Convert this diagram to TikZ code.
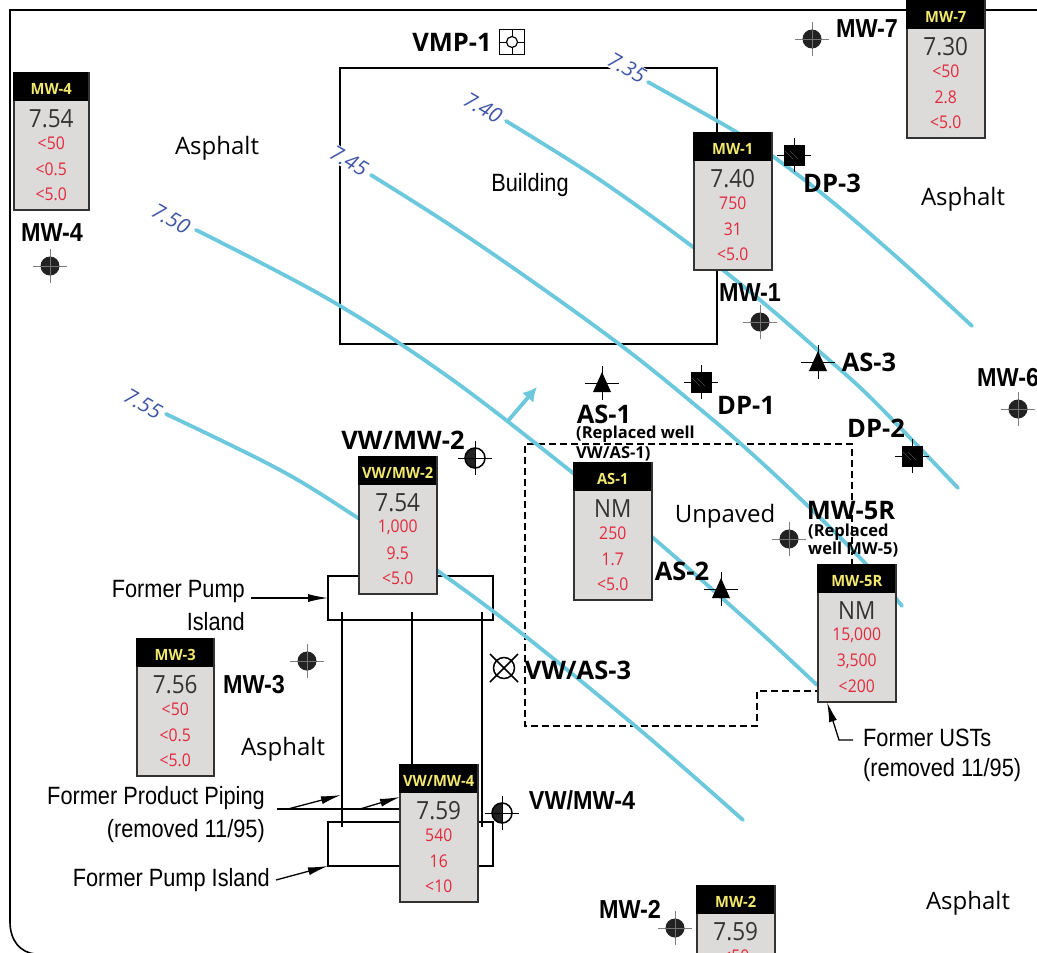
\documentclass[tikz,border=0pt]{standalone}
\usepackage{fontspec}
\setmainfont{Open Sans}
\newfontfamily\cond[FakeStretch=0.87]{Liberation Sans}
\newfontfamily\condb[FakeStretch=0.9]{Liberation Sans Bold}
\newfontfamily\titlef[FakeStretch=0.95]{Open Sans Bold}
\newfontfamily\myb{Open Sans Bold}
\newfontfamily\valf[FakeStretch=0.9]{Open Sans}
\definecolor{teal1}{HTML}{6CC8DC}
\definecolor{blue1}{HTML}{3F55A5}
\definecolor{red1}{HTML}{E3283C}
\definecolor{val1}{HTML}{333333}
\definecolor{yel1}{HTML}{F2E86D}
\definecolor{body1}{HTML}{DCDBDA}
\definecolor{dark1}{HTML}{222222}
\usetikzlibrary{arrows.meta}
\tikzset{
  contour/.style={draw=teal1,line width=3.8pt,line cap=round},
  clabel/.style={text=blue1,fill=white,inner sep=1pt,rotate=-30,font=\fontsize{21}{21}\selectfont\itshape},
  plain/.style={inner sep=0,yshift=-2pt,font=\fontsize{24}{24}\selectfont},
  lab/.style={inner sep=0,yshift=-1pt,font=\myb\fontsize{25.5}{25.5}\selectfont},
  labc/.style={inner sep=0,font=\condb\fontsize{26}{26}\selectfont},
  labs/.style={inner sep=0,yshift=-1pt,font=\myb\fontsize{16.5}{16.5}\selectfont},
  former/.style={inner sep=0,yshift=-2pt,font=\cond\fontsize{25}{25}\selectfont},
  outline/.style={draw=black,line width=1.6pt},
  pipe/.style={draw=black,line width=1.5pt},
  dashline/.style={draw=black,line width=1.5pt,dash pattern=on 7pt off 4pt},
  lead/.style={draw=black,line width=1.3pt,-{Latex[length=20pt,width=8pt]}},
  xhg/.style={draw=gray,line width=0.8pt},
  xhb/.style={draw=black,line width=1pt},
  wellfill/.style={circle,fill=dark1,minimum size=19pt,inner sep=0},
  wellhalf/.style={circle,draw=black,line width=1.5pt,fill=white,minimum size=20pt,inner sep=0,
     path picture={\fill[dark1] (path picture bounding box.north west) rectangle (path picture bounding box.south);}},
  dpsq/.style={rectangle,fill=black,minimum size=21pt,inner sep=0},
  bodybox/.style={rectangle,draw=val1,line width=1.5pt,fill=body1,inner sep=0,anchor=north west},
  headbox/.style={rectangle,fill=black,inner sep=0,anchor=north west},
}
\newcommand{\xh}[3]{%
  \draw[#3] ([xshift=-17pt]#2) -- ([xshift=17pt]#2);
  \draw[#3] ([yshift=-17pt]#2) -- ([yshift=17pt]#2);}
\newcommand{\wellF}[2]{\coordinate (#1) at (#2);\xh{}{#1}{xhg}\node[wellfill] (#1s) at (#1) {};
  \draw[black!55,line width=0.3pt] ([xshift=-9pt]#1) -- ([xshift=9pt]#1) ([yshift=-9pt]#1) -- ([yshift=9pt]#1);}
\newcommand{\wellH}[2]{\coordinate (#1) at (#2);\node[wellhalf] (#1s) at (#1) {};\xh{}{#1}{xhb}}
\newcommand{\dpS}[2]{\coordinate (#1) at (#2);\node[dpsq] (#1s) at (#1) {};\xh{}{#1}{xhb}
  \draw[gray,line width=0.3pt] ([xshift=-4pt,yshift=4pt]#1) -- ([xshift=4pt,yshift=-4pt]#1)
     ([xshift=-9pt,yshift=4pt]#1) -- ([xshift=-1pt,yshift=-4pt]#1);}
\newcommand{\asT}[2]{\coordinate (#1) at (#2);\xh{}{#1}{xhb}
  \fill[black] ([xshift=-9pt,yshift=-9pt]#1) -- ([xshift=9pt,yshift=-9pt]#1) -- ([yshift=11pt]#1) -- cycle;}
% name, x, y (top-left), width, title, value, a, b, c
\newcommand{\databox}[9]{%
  \node[bodybox,minimum width=#4pt,minimum height=137pt] (#1) at (#2,#3) {};
  \node[headbox,minimum width=#4pt,minimum height=29pt] (#1h) at (#2,#3) {};
  \node[inner sep=0,text=yel1,font=\titlef\fontsize{15.5}{15.5}\selectfont] (#1t) at ([yshift=-17pt]#1.north) {#5};
  \node[inner sep=0,text=val1,font=\valf\fontsize{25}{25}\selectfont] (#1v) at ([yshift=-47pt]#1.north) {#6};
  \node[inner sep=0,text=red1,font=\valf\fontsize{17.5}{17.5}\selectfont] (#1a) at ([yshift=-71pt]#1.north) {#7};
  \node[inner sep=0,text=red1,font=\valf\fontsize{17.5}{17.5}\selectfont] (#1b) at ([yshift=-97pt]#1.north) {#8};
  \node[inner sep=0,text=red1,font=\valf\fontsize{17.5}{17.5}\selectfont] (#1c) at ([yshift=-122pt]#1.north) {#9};}
\begin{document}
\begin{tikzpicture}[x=1pt,y=-1pt]
\useasboundingbox (0,0) rectangle (1037,953);
\clip (0,0) rectangle (1037,953);
\fill[white] (0,0) rectangle (1037,953);
% frame
\draw[outline] (1040,10) -- (10,10) -- (10,922) .. controls (10,940) and (20,953) .. (36,954);
% building and islands
\draw[outline] (340,68) rectangle (717,344);
\draw[outline] (328,576) rectangle (493,620);
\draw[outline] (328,822) rectangle (493,866);
\draw[pipe] (342,612) -- (342,827);
\draw[pipe] (412,612) -- (412,780);
\draw[pipe] (482,612) -- (482,827);
% unpaved area
\draw[dashline] (852,566) -- (852,444) -- (525,444) -- (525,726) -- (757,726) -- (757,691) -- (817,691);
% contours
\draw[contour] plot[smooth,tension=0.6] coordinates {(648,82) (733,130) (771,155) (830,200) (900,260) (972,326)};
\draw[contour] plot[smooth,tension=0.6] coordinates {(506,121) (600,180) (693,247) (760,300) (820,352) (873,400) (958,488)};
\draw[contour] plot[smooth,tension=0.6] coordinates {(371,175) (450,225) (539,286) (627,350) (700,409) (750,452) (810,508) (865,563) (902,606)};
\draw[contour] plot[smooth,tension=0.6] coordinates {(196,230) (330,300) (450,378) (573,473) (652,537) (750,623) (817,685)};
\draw[contour] plot[smooth,tension=0.6] coordinates {(166,414) (280,470) (358,518) (435,569) (520,632) (640,730) (743,820)};
\node[clabel] (c735) at (627,68) {7.35};
\node[clabel] (c740) at (483,108) {7.40};
\node[clabel] (c745) at (349,161) {7.45};
\node[clabel] (c750) at (171,219) {7.50};
\node[clabel] (c755) at (143,404) {7.55};
% flow arrow
\coordinate (flowa) at (507,422);
\coordinate (flowb) at (537,387);
\draw[draw=teal1,line width=3.8pt,-{Latex[length=14pt,width=15pt]}] (flowa) -- (flowb);
% symbols
\wellF{mw7}{812,39}
\wellF{mw4}{50,266}
\wellF{mw1}{760,322}
\wellF{mw6}{1018,409}
\wellF{mw5}{789,539}
\wellF{mw3}{307,661}
\wellF{mw2}{675,928}
\wellH{vw2}{475,458}
\wellH{vw4}{502,813}
\dpS{dp3}{794,155}
\dpS{dp1}{701,382}
\dpS{dp2}{912,456}
\asT{as1}{602,383}
\asT{as3}{818,362}
\asT{as2}{721,589}
% VW/AS-3
\node[circle,draw=black,line width=1.5pt,minimum size=21pt,inner sep=0] (vwas3) at (504,668) {};
\draw[black,line width=1.5pt] ([xshift=-14pt,yshift=14pt]vwas3.center) -- ([xshift=14pt,yshift=-14pt]vwas3.center)
   ([xshift=-14pt,yshift=-14pt]vwas3.center) -- ([xshift=14pt,yshift=14pt]vwas3.center);
% VMP-1
\node[rectangle,draw=black,line width=1.3pt,minimum size=25pt,inner sep=0] (vmp) at (512,42) {};
\node[circle,draw=black,line width=1.2pt,minimum size=11pt,inner sep=0] (vmpc) at (512,42) {};
\draw[black,line width=1pt] (vmp.north) -- (vmpc.north) (vmpc.south) -- (vmp.south) (vmp.west) -- (vmpc.west) (vmpc.east) -- (vmp.east);
% leader lines
\coordinate (p1a) at (251,598); \coordinate (p1b) at (328,598);
\coordinate (p2a) at (276,880); \coordinate (p2b) at (328,866);
\coordinate (l0a) at (277,809); \coordinate (l0b) at (399,809);
\coordinate (l1a) at (288,809); \coordinate (l1b) at (341,795);
\coordinate (l2a) at (360,809); \coordinate (l2b) at (400,797);
\draw[lead] (p1a) -- (p1b);
\draw[lead] (p2a) -- (p2b);
\draw[draw=black,line width=1.3pt] (l0a) -- (l0b);
\draw[lead] (l1a) -- (l1b);
\draw[lead] (l2a) -- (l2b);
\coordinate (u1) at (853,740); \coordinate (u2) at (839,740); \coordinate (u3) at (827,702);
\draw[lead] (u1) -- (u2) -- (u3);
% data boxes
\databox{bmw4}{13}{72}{75}{MW-4}{7.54}{<50}{<0.5}{<5.0}
\databox{bmw1}{693}{132}{78}{MW-1}{7.40}{750}{31}{<5.0}
\databox{bmw7}{906}{0}{78}{MW-7}{7.30}{<50}{2.8}{<5.0}
\databox{bvw2}{358}{456}{78}{VW/MW-2}{7.54}{1,000}{9.5}{<5.0}
\databox{bas1}{573}{462}{78}{AS-1}{NM}{250}{1.7}{<5.0}
\databox{bmw5}{817}{564}{78}{MW-5R}{NM}{15,000}{3,500}{<200}
\databox{bmw3}{136}{638}{77}{MW-3}{7.56}{<50}{<0.5}{<5.0}
\databox{bvw4}{399}{764}{78}{VW/MW-4}{7.59}{540}{16}{<10}
\databox{bmw2}{696}{885}{78}{MW-2}{7.59}{<50}{}{}
% area text
\node[plain] (t1) at (217,146) {Asphalt};
\node[plain] (t2) at (963,197) {Asphalt};
\node[plain] (t3) at (283,747) {Asphalt};
\node[plain] (t4) at (968,901) {Asphalt};
\node[former] (t5) at (530,183) {Building};
\node[plain] (t6) at (725,514) {Unpaved};
% bold labels
\node[lab] (l01) at (452,41) {VMP-1};
\node[labc] (l02) at (867,29) {MW-7};
\node[lab] (l03) at (832,182) {DP-3};
\node[labc] (l04) at (750,293) {MW-1};
\node[lab] (l05) at (869,361) {AS-3};
\node[lab] (l06) at (604,413) {AS-1};
\node[labs,anchor=west] (l07) at (576,433) {(Replaced well};
\node[labs,anchor=west] (l08) at (576,453) {VW/AS-1)};
\node[lab] (l09) at (746,404) {DP-1};
\node[lab] (l10) at (876,427) {DP-2};
\node[labc,anchor=west] (l11) at (977,378) {MW-6};
\node[lab] (l12) at (851,510) {MW-5R};
\node[labs,anchor=west] (l13) at (808,531) {(Replaced};
\node[labs,anchor=west] (l14) at (808,549) {well MW-5)};
\node[lab] (l15) at (403,439) {VW/MW-2};
\node[lab] (l16) at (682,570) {AS-2};
\node[lab] (l17) at (578,669) {VW/AS-3};
\node[labc] (l18) at (254,685) {MW-3};
\node[labc] (l19) at (582,800) {VW/MW-4};
\node[labc] (l20) at (630,909) {MW-2};
\node[labc] (l21) at (52,233) {MW-4};
% former labels
\node[former,anchor=east] (f1) at (245,589) {Former Pump};
\node[former,anchor=east] (f2) at (245,620) {Island};
\node[former,anchor=east] (f3) at (265,796) {Former Product Piping};
\node[former,anchor=east] (f4) at (265,829) {(removed 11/95)};
\node[former,anchor=east] (f5) at (270,878) {Former Pump Island};
\node[former,anchor=west] (f6) at (863,736) {Former USTs};
\node[former,anchor=west] (f7) at (863,768) {(removed 11/95)};
\end{tikzpicture}
\end{document}
